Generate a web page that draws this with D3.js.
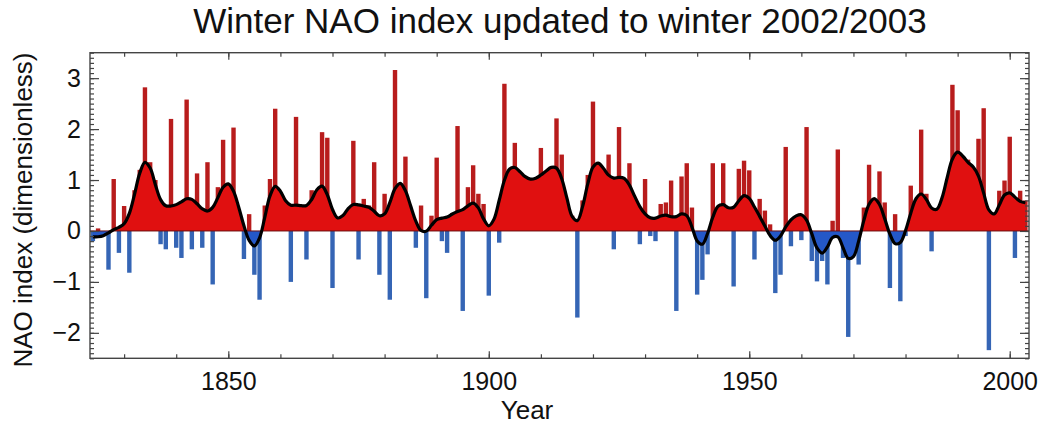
<!DOCTYPE html>
<html><head><meta charset="utf-8">
<script src="https://cdn.jsdelivr.net/npm/d3@7"></script>
<style>body{margin:0;background:#fff}svg{display:block}</style>
</head><body><svg id="c" width="1044" height="425"></svg>
<script>
// ---- data ----
const firstYear = 1824;
const naoIndex = [
  -0.2, 0.05, -0.1, -0.76, 1.02, -0.43,                       // 1824-1829
  0.49, -0.82, 0.8, 1.2, 2.82, 1.35, 1.0, -0.26, -0.36, 2.2,   // 1830s
  -0.33, -0.53, 2.58, -0.36, 1.13, -0.33, 1.35, -1.05, 0.86, 1.79, // 1840s
  0.4, 2.03, 0.2, -0.55, 0.33, -0.86, -1.35, 0.5, 1.02, 2.4,   // 1850s
  0.4, 0.45, -1.0, 2.24, 0.4, -0.56, 0.8, 0.5, 1.94, 1.83,     // 1860s
  -1.12, 0.0, 0.2, 0.4, 1.77, -0.56, 0.63, 0.5, 1.35, -0.86,   // 1870s
  0.73, -1.35, 3.16, 0.5, 1.46, 0.3, -0.33, 0.5, -1.32, 0.3,   // 1880s
  1.44, -0.2, -0.43, 0.35, 2.06, -1.57, 0.86, 1.29, 0.73, 0.53, // 1890s
  -1.27, 0.1, -0.23, 2.89, 0.6, 1.73, 1.12, 0.92, 0.9, 0.7,    // 1900s
  1.63, 0.9, 0.8, 2.21, 1.5, 0.5, 0.3, -1.7, 0.6, 1.1,         // 1910s
  2.54, 1.1, 1.2, 1.5, -0.36, 2.04, 1.0, 1.33, 0.6, -0.26,     // 1920s
  1.02, -0.1, -0.2, 0.53, 0.56, 0.99, -1.57, 1.07, 1.33, 0.46, // 1930s
  -1.25, -0.96, -0.46, 1.33, 0.2, 1.33, 0.45, -1.09, 1.22, 1.38, // 1940s
  1.19, -0.56, 0.63, 0.4, 0.13, -1.22, -0.86, 1.65, -0.3, 0.26, // 1950s
  -0.18, 2.04, -0.59, -0.99, -0.59, -1.05, 0.2, 1.6, -0.53, -2.08, // 1960s
  -0.4, -0.66, 0.46, 1.3, 0.5, 1.17, 0.56, -1.12, 0.33, -1.38, // 1970s
  -0.1, 0.89, 0.26, 1.99, 0.73, -0.4, 0.3, 0.2, 0.33, 2.87,    // 1980s
  2.37, 0.6, 1.4, 0.9, 1.81, 2.41, -2.34, 0.26, 0.79, 0.99,    // 1990s
  1.85, -0.53, 0.79, 0.6                                       // 2000-2003
];
const years = naoIndex.map((_, i) => firstYear + i);
const xTickLabels = [1850, 1900, 1950, 2000];
const yTickLabels = [-2, -1, 0, 1, 2, 3];
const titleText = "Winter NAO index updated to winter 2002/2003";
const xTitle = "Year";
const yTitle = "NAO index  (dimensionless)";

// ---- layout ----
const svg = d3.select("#c");
const L = 90, R = 1029, T = 52.7, B = 358.3;
const x = d3.scaleLinear().domain([1823.45, 2003.7]).range([L, R]);
const y = d3.scaleLinear().domain([-2.5, 3.5]).range([B, T]);
const font = "'Liberation Sans', Arial, Helvetica, sans-serif";

// gaussian-weighted smoothing of the index
const sigma = 1.67;
const smooth = naoIndex.map((_, i) => {
  let s = 0, w = 0;
  for (let k = -6; k <= 6; k++) {
    const j = i + k;
    if (j < 0 || j >= naoIndex.length) continue;
    const wt = Math.exp(-0.5 * (k / sigma) ** 2);
    s += wt * naoIndex[j]; w += wt;
  }
  return s / w;
});

const defs = svg.append("defs");
defs.append("clipPath").attr("id", "plot").append("rect")
  .attr("x", L).attr("y", T).attr("width", R - L).attr("height", B - T);
defs.append("clipPath").attr("id", "pos").append("rect")
  .attr("x", L).attr("y", T).attr("width", R - L).attr("height", y(0) - T);
defs.append("clipPath").attr("id", "neg").append("rect")
  .attr("x", L).attr("y", y(0)).attr("width", R - L).attr("height", B - y(0));

const g = svg.append("g").attr("clip-path", "url(#plot)");
const bw = 4.4;
g.selectAll("rect.bar").data(years).join("rect").attr("class", "bar")
  .attr("x", d => x(d) - bw / 2)
  .attr("width", bw)
  .attr("y", (d, i) => naoIndex[i] >= 0 ? y(naoIndex[i]) : y(0))
  .attr("height", (d, i) => Math.abs(y(naoIndex[i]) - y(0)))
  .attr("fill", (d, i) => naoIndex[i] >= 0 ? "#b81c1c" : "#3565b5");

const area = d3.area().x((d, i) => x(years[i])).y0(y(0)).y1(d => y(d)).curve(d3.curveCatmullRom);
g.append("path").datum(smooth).attr("d", area).attr("fill", "#e01010").attr("clip-path", "url(#pos)");
g.append("path").datum(smooth).attr("d", area).attr("fill", "#2458c8").attr("clip-path", "url(#neg)");

g.append("line").attr("x1", L).attr("x2", R).attr("y1", y(0)).attr("y2", y(0))
  .attr("stroke", "#6a1010").attr("stroke-width", 1);

const line = d3.line().x((d, i) => x(years[i])).y(d => y(d)).curve(d3.curveCatmullRom);
g.append("path").datum(smooth).attr("d", line).attr("fill", "none")
  .attr("stroke", "#000").attr("stroke-width", 3.2).attr("stroke-linejoin", "round");

// ---- axes ----
const axCol = "#444";
const minorX = d3.range(1830, 2004, 10);
const minorY = d3.range(-25, 36).map(v => v / 10);
function styleAxis(sel) {
  sel.select(".domain").remove();
  sel.selectAll("line").attr("stroke", axCol).attr("stroke-width", 1.2);
  sel.selectAll("text").attr("font-family", font).attr("fill", "#111");
}
// bottom
svg.append("g").attr("transform", `translate(0,${B})`)
  .call(d3.axisBottom(x).tickValues(minorX).tickSize(-4).tickFormat(""))
  .call(styleAxis);
svg.append("g").attr("transform", `translate(0,${B})`)
  .call(d3.axisBottom(x).tickValues(xTickLabels).tickSize(-7).tickPadding(14).tickFormat(d3.format("d")))
  .call(styleAxis).selectAll("text").attr("font-size", 25);
// top
svg.append("g").attr("transform", `translate(0,${T})`)
  .call(d3.axisTop(x).tickValues(minorX).tickSize(-4).tickFormat(""))
  .call(styleAxis);
svg.append("g").attr("transform", `translate(0,${T})`)
  .call(d3.axisTop(x).tickValues(xTickLabels).tickSize(-7).tickFormat(""))
  .call(styleAxis);
// left
svg.append("g").attr("transform", `translate(${L},0)`)
  .call(d3.axisLeft(y).tickValues(minorY).tickSize(-4).tickFormat(""))
  .call(styleAxis);
svg.append("g").attr("transform", `translate(${L},0)`)
  .call(d3.axisLeft(y).tickValues(yTickLabels).tickSize(-9).tickPadding(9).tickFormat(d3.format("d")))
  .call(styleAxis).selectAll("text").attr("font-size", 25);
// right
svg.append("g").attr("transform", `translate(${R},0)`)
  .call(d3.axisRight(y).tickValues(minorY).tickSize(-4).tickFormat(""))
  .call(styleAxis);
svg.append("g").attr("transform", `translate(${R},0)`)
  .call(d3.axisRight(y).tickValues(yTickLabels).tickSize(-9).tickFormat(""))
  .call(styleAxis);

svg.append("rect").attr("x", L).attr("y", T).attr("width", R - L).attr("height", B - T)
  .attr("fill", "none").attr("stroke", axCol).attr("stroke-width", 1.4);

// ---- titles ----
svg.append("text").attr("x", 560).attr("y", 33).attr("text-anchor", "middle")
  .attr("font-family", font).attr("font-size", 35).attr("fill", "#111").text(titleText);
svg.append("text").attr("x", 527).attr("y", 419).attr("text-anchor", "middle")
  .attr("font-family", font).attr("font-size", 26).attr("fill", "#111").text(xTitle);
svg.append("text").attr("transform", "translate(32,210) rotate(-90)").attr("text-anchor", "middle")
  .attr("font-family", font).attr("font-size", 26).attr("fill", "#111").text(yTitle);
</script></body></html>
